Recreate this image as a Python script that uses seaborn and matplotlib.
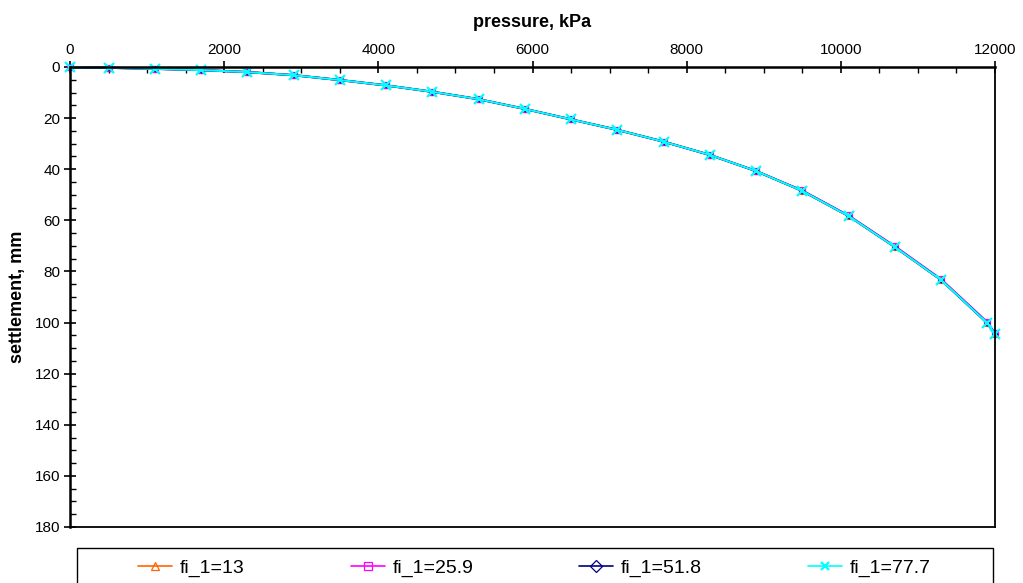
import matplotlib
matplotlib.use("Agg")
import matplotlib.pyplot as plt
import seaborn as sns
import pandas as pd
from matplotlib.ticker import MultipleLocator
from matplotlib.patches import Rectangle

pressure = [0, 500, 1100, 1700, 2300, 2900, 3500, 4100, 4700, 5300, 5900,
            6500, 7100, 7700, 8300, 8900, 9500, 10100, 10700, 11300, 11900, 12000]
settle_13 = [0, 0.3, 0.7, 1.2, 2.0, 3.2, 5.1, 7.2, 9.7, 12.6, 16.4,
             20.5, 24.6, 29.2, 34.4, 40.7, 48.5, 58.3, 70.4, 83.3, 100.2, 104.5]
settle_25_9 = [0, 0.3, 0.7, 1.2, 2.0, 3.2, 5.1, 7.2, 9.7, 12.6, 16.4,
               20.5, 24.6, 29.2, 34.4, 40.7, 48.3, 58.1, 70.1, 83.0, 99.8, 104.2]
settle_51_8 = [0, 0.3, 0.7, 1.2, 2.0, 3.2, 5.1, 7.2, 9.7, 12.6, 16.4,
               20.5, 24.6, 29.2, 34.4, 40.7, 48.5, 58.3, 70.4, 83.3, 100.2, 104.5]
settle_77_7 = [0, 0.3, 0.7, 1.2, 2.0, 3.2, 5.1, 7.2, 9.7, 12.6, 16.4,
               20.5, 24.6, 29.2, 34.4, 40.7, 48.5, 58.3, 70.4, 83.3, 100.2, 104.5]
series_names = ["fi_1=13", "fi_1=25.9", "fi_1=51.8", "fi_1=77.7"]
series_values = [settle_13, settle_25_9, settle_51_8, settle_77_7]
colors = ["#FF6600", "#FF00FF", "#000080", "#00FFFF"]
markers = ["^", "s", "D", "x"]
lws = [1.5, 1.5, 1.6, 1.5]
msizes = [4.5, 4.5, 2.5, 7]

sns.set_style("white")
plt.rcParams['font.family'] = ['Liberation Sans', 'DejaVu Sans']
plt.rcParams['text.color'] = 'black'
plt.rcParams['axes.labelcolor'] = 'black'
plt.rcParams['xtick.color'] = 'black'
plt.rcParams['ytick.color'] = 'black'

fig = plt.figure(figsize=(10.23, 5.83), dpi=100)
ax = fig.add_axes([70/1023, 1-527/583, (995-70)/1023, (527-67)/583])

for name, vals, c, m, lw, ms in zip(series_names, series_values, colors, markers, lws, msizes):
    df = pd.DataFrame({"pressure": pressure, "settlement": vals})
    if m == "x":
        mkw = dict(markeredgecolor=c, markersize=ms, markeredgewidth=1.6)
    else:
        mkw = dict(markerfacecolor="none", markeredgecolor=c, markersize=ms, markeredgewidth=0.9)
    sns.lineplot(data=df, x="pressure", y="settlement", ax=ax, color=c,
                 marker=m, linewidth=lw, sort=False, estimator=None,
                 label=name, clip_on=False, **mkw)

ax.set_xlim(0, 12000)
ax.set_ylim(180, 0)
ax.xaxis.tick_top()
ax.xaxis.set_label_position("top")
ax.xaxis.set_major_locator(MultipleLocator(2000))
ax.xaxis.set_minor_locator(MultipleLocator(500))
ax.yaxis.set_major_locator(MultipleLocator(20))
ax.yaxis.set_minor_locator(MultipleLocator(5))
ax.tick_params(axis="both", which="major", direction="inout", length=8, width=1.2,
               labelsize=11, color="black", labelcolor="black", pad=3)
ax.tick_params(axis="both", which="minor", direction="in", length=4, width=1.0, color="black")
ax.tick_params(axis="x", which="both", top=True, bottom=False)
ax.tick_params(axis="y", which="both", left=True, right=False)

ax.set_xlabel("pressure, kPa", fontsize=13, fontweight="bold", labelpad=12, color="black")
ax.set_ylabel("settlement, mm", fontsize=13, fontweight="bold", labelpad=6, color="black")

for s in ["top", "left"]:
    ax.spines[s].set_linewidth(1.8)
    ax.spines[s].set_color("black")
for s in ["bottom", "right"]:
    ax.spines[s].set_linewidth(1.3)
    ax.spines[s].set_color("black")

ax.get_legend().remove()
handles, labels = ax.get_legend_handles_labels()

# legend frame (extends below the canvas as in the reference)
fig.patches.append(Rectangle((77/1023, -0.1), (993-77)/1023, 0.1 + (1-548/583),
                             transform=fig.transFigure, fill=False,
                             edgecolor="black", linewidth=1.0))
leg = fig.legend(handles, labels, loc="center left",
                 bbox_to_anchor=(138/1023, 1-568/583),
                 ncol=4, fontsize=14, frameon=False,
                 handlelength=1.75, handletextpad=0.4, columnspacing=5.45,
                 borderpad=0, borderaxespad=0)
for t in leg.get_texts():
    t.set_color("black")
for h in leg.legend_handles:
    h.set_markersize(6)
    h.set_linewidth(1.2)

fig.savefig("out.png", dpi=100)
